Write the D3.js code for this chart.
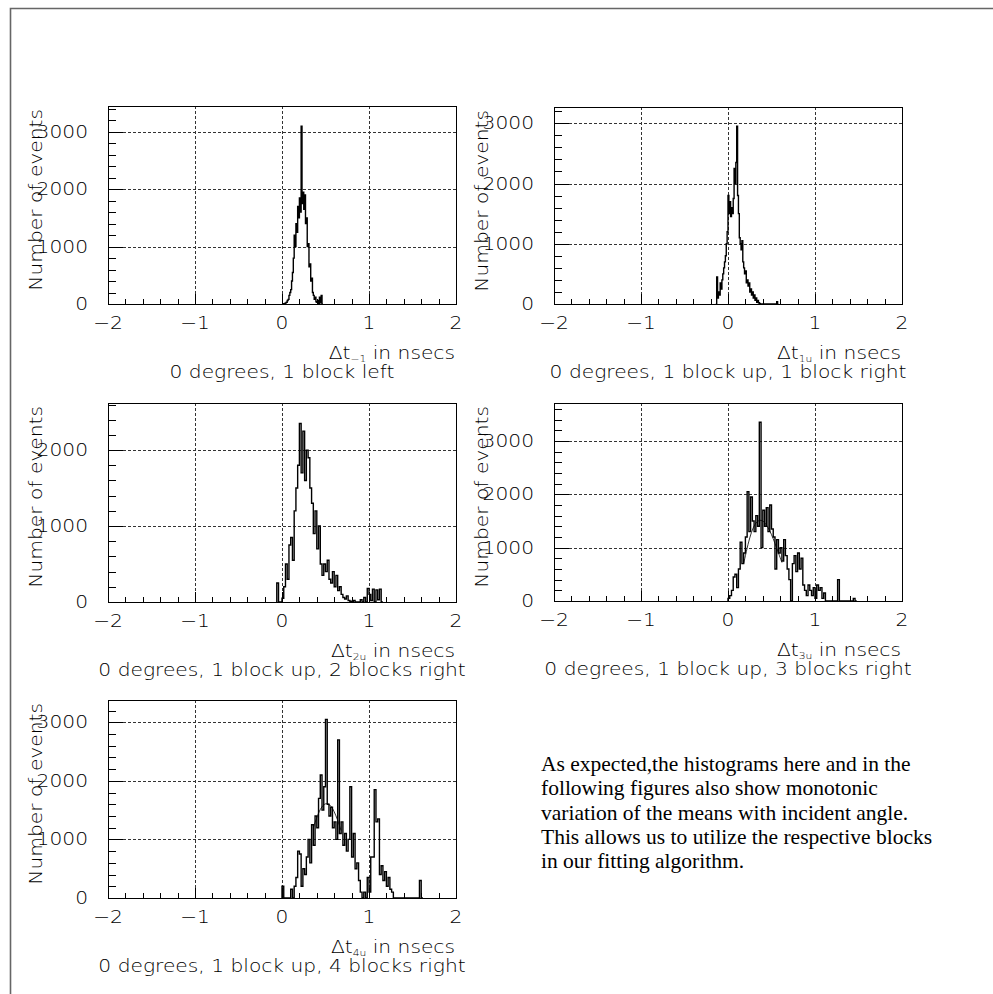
<!DOCTYPE html>
<meta charset="utf-8" />
<script src="https://d3js.org/d3.v7.min.js"></script>
<style>
  body { margin: 0; background: #fff; }
  text.s { font-family: "DejaVu Sans", Verdana, Roboto, sans-serif; font-weight: 300; fill: #000; }
  text.note { font-family: "Liberation Serif", "Times New Roman", serif; fill: #000; }
</style>
<body>
<div id="chart"></div>
<script>
// bin layout per panel (ns)
const binStart = [0.00, -0.14, -0.06, 0.00, 0.00];
const binWidth = [0.01, 0.01, 0.02, 0.02, 0.02];

// counts per bin
const counts1 = [0, 5, 0, 10, 20, 30, 60, 80, 150, 200, 250, 400, 550, 800, 1200, 1000,
  1400, 1250, 1700, 1500, 1850, 1600, 3100, 1750, 1950, 1650, 1900, 1400, 1500, 1000,
  1050, 650, 700, 400, 450, 200, 150, 80, 120, 40, 30, 60, 10, 120, 20, 150, 0];
const counts2 = [0, 450, 100, 200, 150, 350, 250, 400, 500, 600, 700, 800, 1000, 1200,
  1800, 1500, 1700, 1450, 1600, 1500, 1750, 2250, 2000, 2350, 2950, 1800, 1500, 1100,
  1000, 900, 1050, 700, 600, 500, 550, 350, 400, 300, 350, 200, 250, 150, 200, 100, 150,
  60, 100, 30, 60, 20, 10, 0, 0, 0, 0, 0, 0, 0, 0, 0, 0, 0, 0, 0, 0, 0, 0, 0, 0, 0, 40, 0];
const counts3 = [250, 0, 0, 50, 200, 500, 300, 750, 850, 550, 1200, 1500, 1800, 2350,
  1700, 2250, 1600, 2000, 1900, 1500, 1300, 900, 1200, 700, 1000, 500, 350, 500, 400, 550,
  300, 250, 400, 200, 350, 150, 200, 100, 60, 40, 80, 20, 10, 0, 20, 0, 0, 0, 30, 0, 60,
  0, 180, 100, 20, 170, 0, 160, 30, 170, 0];
const counts4 = [50, 100, 200, 450, 500, 250, 600, 1100, 700, 900, 1200, 2050, 1300, 1950,
  1500, 1300, 1600, 1400, 3350, 1000, 1700, 1400, 1750, 1300, 1800, 1350, 1200, 600, 1150,
  900, 1000, 750, 1150, 850, 600, 400, 0, 700, 850, 550, 900, 600, 800, 300, 200, 100, 300,
  200, 100, 250, 50, 300, 200, 250, 50, 150, 0, 0, 0, 0, 0, 0, 0, 400, 0, 0, 0, 0, 0, 0,
  0, 0, 50, 0];
const counts5 = [200, 0, 0, 0, 0, 150, 0, 200, 350, 800, 750, 200, 500, 400, 700, 1000,
  600, 1250, 900, 1400, 1200, 1700, 2100, 1500, 1900, 3050, 1600, 1400, 1550, 1200, 1300,
  1000, 2700, 1100, 1300, 900, 1100, 800, 1000, 1900, 700, 1100, 500, 600, 300, 100, 0,
  100, 0, 350, 100, 700, 700, 1850, 1300, 1350, 400, 550, 300, 450, 200, 350, 150, 100,
  0, 0, 0, 0, 0, 0, 0, 0, 0, 0, 0, 0, 0, 0, 0, 300, 0];

// thin fitted curves drawn over panels 4 and 5
const fit4X = [0.18, 0.22, 0.26, 0.30, 0.34, 0.38, 0.42, 0.46, 0.50, 0.54, 0.58, 0.62];
const fit4Y = [700, 1000, 1250, 1420, 1500, 1520, 1480, 1380, 1250, 1080, 900, 720];
const fit5X = [0.36, 0.40, 0.44, 0.48, 0.52, 0.56, 0.60, 0.64, 0.68];
const fit5Y = [1200, 1380, 1520, 1600, 1620, 1580, 1480, 1330, 1150];

const yMax = [3450, 3270, 2620, 3710, 3380];
const xTicks = [-2, -1, 0, 1, 2];
const yMajor = [0, 1000, 2000, 3000];
const subscripts = ["\u22121", "1u", "2u", "3u", "4u"];
const captions = [
  "0 degrees, 1 block left",
  "0 degrees, 1 block up, 1 block right",
  "0 degrees, 1 block up, 2 blocks right",
  "0 degrees, 1 block up, 3 blocks right",
  "0 degrees, 1 block up, 4 blocks right"
];
const noteLines = [
  "As expected,the histograms here and in the",
  "following figures also show monotonic",
  "variation of the means with incident angle.",
  "This allows us to utilize the respective blocks",
  "in our fitting algorithm."
];

const allCounts = [counts1, counts2, counts3, counts4, counts5];
const fits = [null, null, null, [fit4X, fit4Y], [fit5X, fit5Y]];

// frame boxes on the page
const frames = [
  { x0: 108, x1: 456, y0: 106, y1: 304 },
  { x0: 554, x1: 902, y0: 107, y1: 304 },
  { x0: 108, x1: 456, y0: 403, y1: 602 },
  { x0: 554, x1: 902, y0: 403, y1: 601 },
  { x0: 108, x1: 456, y0: 700, y1: 898 }
];

const svg = d3.select("#chart").append("svg")
  .attr("width", 993).attr("height", 994);

// the reference font is wider than what we have: find one horizontal stretch
const probe = svg.append("text").attr("class", "s").style("font-size", "17px").text(captions[1]);
const kx = 357 / probe.node().getComputedTextLength();
probe.remove();

// sans text placed at (x, y) and stretched horizontally
function label(parent, x, y, str, size, anchor, rot) {
  return parent.append("text").attr("class", "s")
    .attr("transform", "translate(" + x + "," + y + ")" + (rot ? "rotate(" + rot + ")" : "") + "scale(" + kx + ",1)")
    .attr("text-anchor", anchor).style("font-size", size + "px")
    .text(str);
}

// page border (top and left only)
svg.append("path")
  .attr("d", "M10.5,994 L10.5,8.5 L993,8.5")
  .attr("fill", "none").attr("stroke", "#666").attr("stroke-width", 1.6);

frames.forEach(function (f, p) {
  const g = svg.append("g");
  const x = d3.scaleLinear().domain([-2, 2]).range([f.x0, f.x1]);
  const y = d3.scaleLinear().domain([0, yMax[p]]).range([f.y1, f.y0]);

  // grid
  g.selectAll(".gx").data([-1, 0, 1]).enter().append("line")
    .attr("x1", d => Math.round(x(d)) + 0.5).attr("x2", d => Math.round(x(d)) + 0.5)
    .attr("y1", f.y0).attr("y2", f.y1)
    .attr("stroke", "#333").attr("stroke-width", 1).attr("stroke-dasharray", "3,2");
  g.selectAll(".gy").data(yMajor.filter(v => v > 0 && v < yMax[p])).enter().append("line")
    .attr("x1", f.x0).attr("x2", f.x1)
    .attr("y1", d => Math.round(y(d)) + 0.5).attr("y2", d => Math.round(y(d)) + 0.5)
    .attr("stroke", "#333").attr("stroke-width", 1).attr("stroke-dasharray", "3,2");

  // histogram outline
  const c = allCounts[p];
  const pts = [[binStart[p], 0]];
  c.forEach(function (v, i) {
    const a = binStart[p] + i * binWidth[p];
    pts.push([a, v], [a + binWidth[p], v]);
  });
  pts.push([binStart[p] + c.length * binWidth[p], 0]);
  g.append("path")
    .attr("d", d3.line().x(d => x(d[0])).y(d => y(d[1]))(pts))
    .attr("fill", "none").attr("stroke", "#000").attr("stroke-width", 1.4);

  if (fits[p]) {
    const fx = fits[p][0], fy = fits[p][1];
    g.append("path")
      .attr("d", d3.line().curve(d3.curveBasis).x((d, i) => x(fx[i])).y((d, i) => y(fy[i]))(fx))
      .attr("fill", "none").attr("stroke", "#000").attr("stroke-width", 0.8);
  }

  // frame
  g.append("rect")
    .attr("x", f.x0 + 0.5).attr("y", f.y0 + 0.5)
    .attr("width", f.x1 - f.x0).attr("height", f.y1 - f.y0)
    .attr("fill", "none").attr("stroke", "#000").attr("stroke-width", 1);

  // x ticks, pointing up
  const xt = d3.range(-19, 20).map(i => i / 10).filter(v => Math.abs(Math.round(v * 10)) % 2 === 0);
  g.selectAll(".tx").data(xt).enter().append("line")
    .attr("x1", d => Math.round(x(d)) + 0.5).attr("x2", d => Math.round(x(d)) + 0.5)
    .attr("y1", f.y1).attr("y2", d => f.y1 - (Math.abs(d - Math.round(d)) < 1e-6 ? 10 : 5))
    .attr("stroke", "#000");

  // y ticks, pointing right
  const yt = d3.range(200, yMax[p], 200);
  g.selectAll(".ty").data(yt).enter().append("line")
    .attr("x1", f.x0).attr("x2", d => f.x0 + (d % 1000 === 0 ? 15 : 8))
    .attr("y1", d => Math.round(y(d)) + 0.5).attr("y2", d => Math.round(y(d)) + 0.5)
    .attr("stroke", "#000");

  // tick labels
  xTicks.forEach(function (d) {
    label(g, x(d), f.y1 + 25, d < 0 ? "\u2212" + Math.abs(d) : String(d), 17, "middle");
  });
  yMajor.filter(v => v < yMax[p]).forEach(function (d) {
    label(g, f.x0 - 20, y(d) + 6, String(d), 17, "end");
  });

  // axis titles
  label(g, f.x0 - 66, f.y0 + 3, "Number of events", 17, "end", -90);

  const t = g.append("text").attr("class", "s")
    .attr("transform", "translate(" + (f.x1 - 1) + "," + (f.y1 + 55) + ")scale(" + kx + ",1)")
    .attr("text-anchor", "end").style("font-size", "17px");
  t.append("tspan").text("\u0394t");
  t.append("tspan").attr("dy", 3).style("font-size", "9px").text(subscripts[p]);
  t.append("tspan").attr("dy", -3).text(" in nsecs");

  label(g, (f.x0 + f.x1) / 2, f.y1 + 74, captions[p], 17, "middle");
});

// note text
svg.selectAll(".note").data(noteLines).enter().append("text")
  .attr("class", "note")
  .attr("x", 541).attr("y", (d, i) => 771 + i * 24.25)
  .style("font-size", "21.5px")
  .text(d => d);
</script>
</body>
